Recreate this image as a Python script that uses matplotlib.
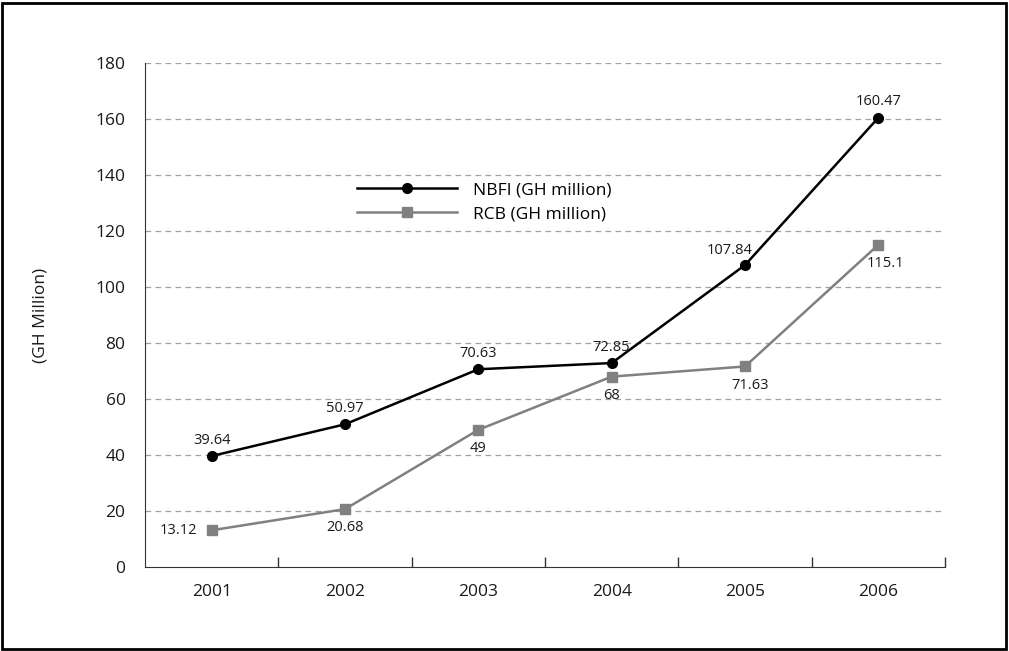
import numpy as np
import matplotlib.pyplot as plt
from matplotlib.patches import Rectangle

plt.rcParams['font.family'] = ['Open Sans', 'DejaVu Sans']

# data
years = ['2001', '2002', '2003', '2004', '2005', '2006']
nbfi = [39.64, 50.97, 70.63, 72.85, 107.84, 160.47]
rcb = [13.12, 20.68, 49, 68, 71.63, 115.1]
nbfi_labels = ['39.64', '50.97', '70.63', '72.85', '107.84', '160.47']
rcb_labels = ['13.12', '20.68', '49', '68', '71.63', '115.1']

x = np.arange(len(years))

fig = plt.figure(figsize=(10.09, 6.51), dpi=100)
ax = fig.add_axes([0.1437, 0.129, 0.7929, 0.7742])

# outer frame
fig.patches.append(Rectangle((0.002, 0.003), 0.995, 0.992, transform=fig.transFigure,
                             fill=False, edgecolor='black', linewidth=2))

ax.plot(x, nbfi, color='black', lw=1.8, marker='o', markersize=7, label='NBFI (GH million)', zorder=3)
ax.plot(x, rcb, color='#808080', lw=1.8, marker='s', markersize=7, label='RCB (GH million)', zorder=3)

# value labels
nbfi_off = [(0, 6), (0, 6), (0, 6), (0, 6), (-11, 5), (0, 6)]
for xi, v, s, off in zip(x, nbfi, nbfi_labels, nbfi_off):
    ax.annotate(s, (xi, v), xytext=off, textcoords='offset points',
                ha='center', va='bottom', fontsize=10.5, color='#1a1a1a')
rcb_off = [(-24, 0), (0, -8), (0, -8), (0, -8), (4, -8), (5, -8)]
for i, (xi, v, s, off) in enumerate(zip(x, rcb, rcb_labels, rcb_off)):
    ax.annotate(s, (xi, v), xytext=off, textcoords='offset points',
                ha='center', va='center' if i == 0 else 'top', fontsize=10.5, color='#1a1a1a')

ax.set_xlim(-0.5, 5.5)
ax.set_ylim(0, 180)
ax.set_yticks(np.arange(0, 181, 20))
ax.set_xticks(x)
ax.set_xticklabels(years)
ax.set_xticks(np.arange(0.5, 5.6, 1), minor=True)
ax.tick_params(axis='x', which='major', length=0, pad=12, labelsize=12.5, labelcolor='#1a1a1a')
ax.tick_params(axis='x', which='minor', direction='in', length=7, width=1, color='#333333')
ax.tick_params(axis='y', length=0, pad=14, labelsize=12.5, labelcolor='#1a1a1a')

for yv in np.arange(20, 181, 20):
    ax.axhline(yv, color='#a0a0a0', lw=0.9, ls=(0, (4.5, 3.5)), zorder=1)

for side in ['top', 'right']:
    ax.spines[side].set_visible(False)
ax.spines['left'].set_color('#333333')
ax.spines['bottom'].set_color('#333333')

ax.set_ylabel('(GH Million)', fontsize=12.5, labelpad=34, color='#1a1a1a')

ax.legend(loc='upper left', bbox_to_anchor=(0.245, 0.795), frameon=False, fontsize=12.5,
          handlelength=5.8, handletextpad=0.9, labelspacing=0.45)

fig.savefig('out.png', dpi=100)
